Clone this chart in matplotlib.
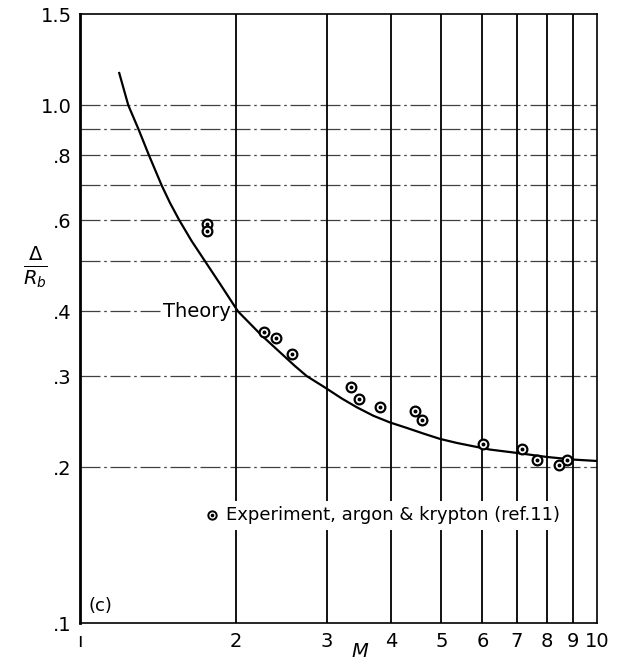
import numpy as np
from matplotlib import pyplot as plt
from matplotlib.ticker import FixedLocator, NullLocator, NullFormatter

plt.rcParams['font.family'] = ['DejaVu Sans']
plt.rcParams['mathtext.fontset'] = 'dejavusans'

# theory curve (M, Delta/R_b)
theory_M = [1.191, 1.240, 1.297, 1.360, 1.439, 1.493, 1.556, 1.644, 1.745, 1.866,
            2.021, 2.242, 2.602, 2.745, 2.978, 3.208, 3.43, 3.693, 3.978, 4.284,
            4.613, 4.97, 5.354, 5.765, 6.209, 7.0, 8.0, 9.0, 10.0]
theory_d = [1.154, 1.0, 0.9, 0.8, 0.7, 0.648, 0.6, 0.547, 0.5, 0.452,
            0.4, 0.360, 0.314, 0.300, 0.2851, 0.2716, 0.2612, 0.2515, 0.2441, 0.2383,
            0.2324, 0.2269, 0.2229, 0.2196, 0.2164, 0.2132, 0.2094, 0.207, 0.2057]

# experiment, argon & krypton (ref. 11)
exp_M = [1.76, 1.76, 2.27, 2.39, 2.57, 3.34, 3.46, 3.80, 4.45, 4.59,
         6.03, 7.15, 7.64, 8.44, 8.76]
exp_d = [0.589, 0.571, 0.365, 0.356, 0.331, 0.286, 0.271, 0.261, 0.257, 0.2465,
         0.2216, 0.2167, 0.207, 0.2018, 0.207]

x_ticks = [1, 2, 3, 4, 5, 6, 7, 8, 9, 10]
x_labels = ['ı', '2', '3', '4', '5', '6', '7', '8', '9', '10']
y_ticks = [0.1, 0.2, 0.3, 0.4, 0.6, 0.8, 1.0, 1.5]
y_labels = ['.1', '.2', '.3', '.4', '.6', '.8', '1.0', '1.5']
y_grid = [0.2, 0.3, 0.4, 0.5, 0.6, 0.7, 0.8, 0.9, 1.0]
x_grid = [2, 3, 4, 5, 6, 7, 8, 9]

fig = plt.figure(figsize=(6.2, 6.68), dpi=100)
ax = fig.add_axes([0.129, 0.067, 0.834, 0.912])
ax.set_xscale('log')
ax.set_yscale('log')
ax.set_xlim(1, 10)
ax.set_ylim(0.1, 1.5)

for yv in y_grid:
    ax.axhline(yv, color='0.25', lw=0.9, ls=(0, (16, 3, 2, 3)), zorder=1)
for xv in x_grid:
    ax.axvline(xv, color='black', lw=1.3, zorder=1)

ax.plot(theory_M, theory_d, color='black', lw=1.6, zorder=3,
        solid_joinstyle='round')
ax.plot(exp_M, exp_d, ls='none', marker='o', ms=7, mfc='white', mec='black',
        mew=1.6, zorder=4)
ax.plot(exp_M, exp_d, ls='none', marker='o', ms=1.8, mfc='black', mec='black',
        zorder=5)

ax.text(1.447, 0.4, 'Theory', fontsize=14, ha='left', va='center', zorder=2,
        bbox=dict(facecolor='white', edgecolor='none', pad=1))
ax.plot([1.80], [0.1616], ls='none', marker='o', ms=6, mfc='white', mec='black',
        mew=1.4, zorder=6)
ax.plot([1.80], [0.1616], ls='none', marker='o', ms=1.6, mfc='black', mec='black',
        zorder=7)
ax.text(1.92, 0.1616, 'Experiment, argon & krypton (ref.11)', fontsize=13,
        ha='left', va='center', zorder=2,
        bbox=dict(facecolor='white', edgecolor='none', pad=4))
ax.text(1.04, 0.108, '(c)', fontsize=13, ha='left', va='center')

ax.xaxis.set_major_locator(FixedLocator(x_ticks))
ax.xaxis.set_minor_locator(NullLocator())
ax.xaxis.set_minor_formatter(NullFormatter())
ax.set_xticklabels(x_labels)
ax.yaxis.set_major_locator(FixedLocator(y_ticks))
ax.yaxis.set_minor_locator(NullLocator())
ax.yaxis.set_minor_formatter(NullFormatter())
ax.set_yticklabels(y_labels)
ax.tick_params(length=0, labelsize=14, pad=6)

for s in ax.spines.values():
    s.set_linewidth(1.2)
ax.spines['left'].set_linewidth(2)

fig.text(0.581, 0.024, r'$M$', fontsize=14, ha='center', va='center')
fig.text(0.057, 0.600, r'$\frac{\Delta}{R_b}$', fontsize=20, ha='center', va='center')

fig.savefig('out.png', dpi=100)
